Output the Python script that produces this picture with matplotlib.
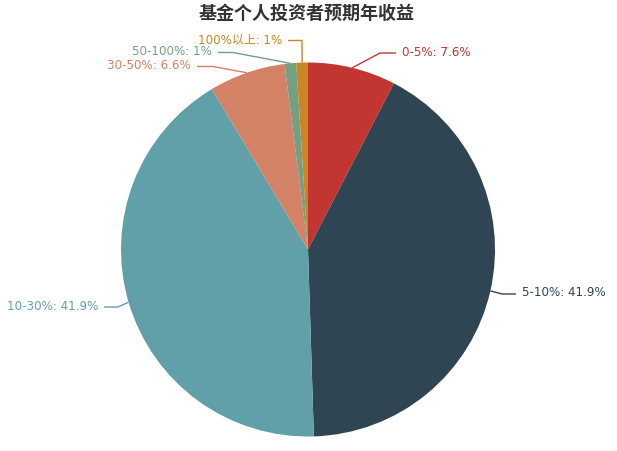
import matplotlib.pyplot as plt
import numpy as np

# data
categories = ["0-5%", "5-10%", "10-30%", "30-50%", "50-100%", "100%以上"]
shares = [7.6, 41.9, 41.9, 6.6, 1, 1]
colors = ["#c23531", "#2f4554", "#61a0a8", "#d48265", "#749f83", "#ca8622"]
title = "基金个人投资者预期年收益"

plt.rcParams["font.family"] = ["DejaVu Sans", "Noto Sans CJK SC"]

fig = plt.figure(figsize=(6.17, 4.51), dpi=100)
ax = fig.add_axes([0, 0, 1, 1])

# pixel coordinates, y pointing down
cx, cy, r = 308, 249.5, 187
wedges, _ = ax.pie(shares, colors=colors, center=(cx, cy), radius=r,
                   startangle=-90, counterclock=True,
                   wedgeprops={"linewidth": 0})
ax.set_xlim(0, 617)
ax.set_ylim(451, 0)
ax.set_aspect("equal")
ax.axis("off")

# label line elbows (layout only), text goes past the horizontal stub
elbows = [(380, 53), (502, 294), (118, 307), (213, 66.5), (233, 52.5), (302, 40.5)]
stub = [16, 14, -14, -16, -15, -14]

for w, cat, val, col, (ex, ey), s in zip(wedges, categories, shares, colors, elbows, stub):
    mid = np.deg2rad((w.theta1 + w.theta2) / 2)
    px, py = cx + r * np.cos(mid), cy + r * np.sin(mid)
    hx = ex + s
    ax.plot([px, ex, hx], [py, ey, ey], color=col, lw=1, solid_capstyle="butt")
    txt = "%s: %s%%" % (cat, ("%g" % val))
    if s > 0:
        ax.text(hx + 6, ey - 1, txt, color=col, fontsize=8.6, ha="left", va="center")
    else:
        ax.text(hx - 6, ey - 1, txt, color=col, fontsize=8.6, ha="right", va="center")

ax.text(307, 13, title, fontsize=13, fontweight="bold", color="#333333",
        ha="center", va="center", family=["Noto Sans CJK SC", "DejaVu Sans"])

plt.savefig("out.png", dpi=100)
